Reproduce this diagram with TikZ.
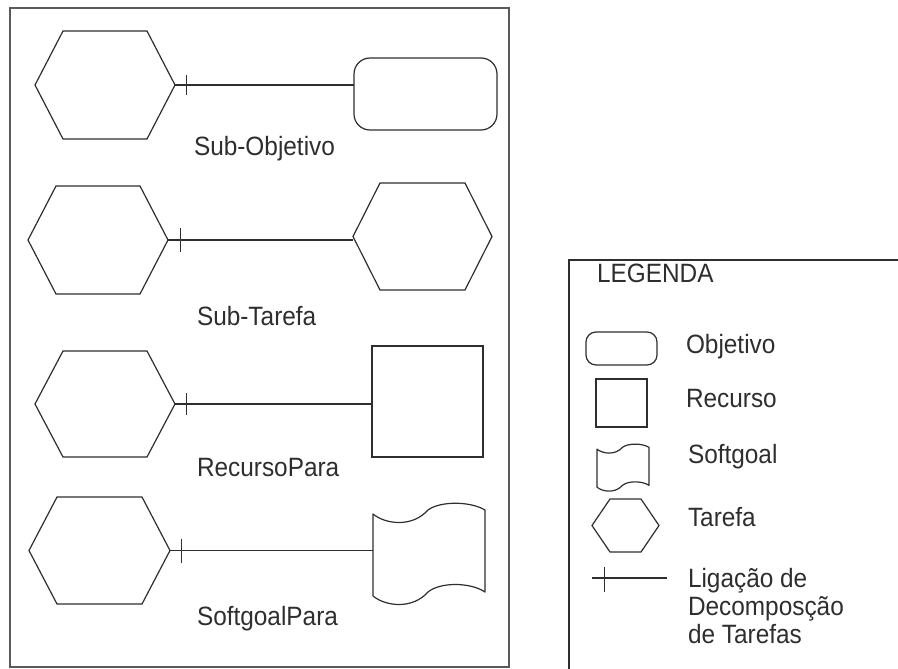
\documentclass[tikz,border=0pt]{standalone}
\usepackage{fontspec}
\setmainfont{Liberation Sans}
\newfontfamily\labfont[FakeStretch=0.92]{Liberation Sans}
\usetikzlibrary{calc}
\definecolor{ink}{HTML}{2E2E2E}
\definecolor{frm}{HTML}{5A5A5A}
\tikzset{
  shapeline/.style={draw=ink, line width=1.2pt},
  box/.style={inner sep=0pt, outer sep=0pt},
  goalbox/.style={box, shapeline, rounded corners=#1},
  resbox/.style={box, shapeline},
  lab/.style={inner sep=0pt, outer sep=0pt, anchor=base west, text=ink, font=\labfont\fontsize{26.5}{28.5}\selectfont},
  link/.style={draw=ink, line width=1.2pt},
  tick/.style={draw=ink, line width=1pt},
  frame/.style={draw=frm, line width=1.4pt},
}
\newcommand\hexnode[5]{% name, center, width, height, inset
  \node[box, minimum width=#3, minimum height=#4] (#1) at #2 {};
  \draw[shapeline] (#1.west) -- ([xshift=#5]#1.north west) -- ([xshift=-#5]#1.north east)
    -- (#1.east) -- ([xshift=-#5]#1.south east) -- ([xshift=#5]#1.south west) -- cycle;}
\newcommand\softnode[5]{% name, center, width, height, scale
  \node[box, minimum width=#3, minimum height=#4] (#1) at #2 {};
  \begin{scope}[shift={(#1.north west)}, x=#5pt, y=-#5pt]
    \draw[shapeline, line join=round] (0,10) .. controls (12,20) and (39,24) .. (55,6)
      .. controls (67,-3) and (97,-3) .. (112,6) -- (112,88)
      .. controls (97,78) and (67,78) .. (55,88)
      .. controls (39,106) and (12,102) .. (0,92) -- cycle;
  \end{scope}}
\begin{document}
\begin{tikzpicture}[x=1pt, y=-1pt]
\useasboundingbox (0,0) rectangle (898,669);
% frames
\draw[frame] (10,8) rectangle (509,667);
\draw[frame, draw=ink] (898,260) -- (569,260) -- (569,669);

% row 1
\hexnode{h1}{(105,85)}{140}{108}{28}
\node[goalbox=16, minimum width=143, minimum height=72] (o1) at (425.5,94) {};
\draw[link] (h1.east) -- (h1.east -| o1.west);
\path (h1.east) ++(11,0) coordinate (k1);
\draw[tick] (k1) ++(0,-10) -- ++(0,20);
\node[lab] (l1) at (194,156) {Sub-Objetivo};

% row 2
\hexnode{h2}{(98,240)}{140}{108}{28}
\hexnode{t2}{(422.5,236.5)}{139}{107}{27}
\draw[link] (h2.east) -- (h2.east -| t2.west);
\path (h2.east) ++(12,0) coordinate (k2);
\draw[tick] (k2) ++(0,-12) -- ++(0,24);
\node[lab] (l2) at (197,325) {Sub-Tarefa};

% row 3
\hexnode{h3}{(105,404)}{140}{106}{28}
\node[resbox, minimum width=111, minimum height=111] (r3) at (427.5,401.5) {};
\draw[link] (h3.east) -- (h3.east -| r3.west);
\path (h3.east) ++(11,0) coordinate (k3);
\draw[tick] (k3) ++(0,-11) -- ++(0,22);
\node[lab] (l3) at (197,476) {RecursoPara};

% row 4
\hexnode{h4}{(99.5,550.5)}{141}{107}{28}
\softnode{s4}{(429,553.5)}{112}{99}{1}
\draw[link] (h4.east) -- (h4.east -| s4.west);
\path (h4.east) ++(11,0) coordinate (k4);
\draw[tick] (k4) ++(0,-12) -- ++(0,24);
\node[lab] (l4) at (197,625) {SoftgoalPara};

% legend
\node[lab] (lg) at (597,282) {LEGENDA};
\node[goalbox=10, minimum width=71, minimum height=33] (lo) at (621.5,348.5) {};
\node[lab] (lot) at (686,353) {Objetivo};
\node[resbox, minimum width=51, minimum height=48] (lr) at (621.5,403) {};
\node[lab] (lrt) at (686,407) {Recurso};
\softnode{ls}{(623,467.5)}{52}{46}{0.464}
\node[lab] (lst) at (688,463) {Softgoal};
\hexnode{lh}{(625.5,525.5)}{67}{53}{18}
\node[lab] (lht) at (688,526) {Tarefa};
\coordinate (la) at (592,578);
\coordinate (lb) at (667,578);
\draw[link] (la) -- (lb);
\path (la) ++(12,0) coordinate (lk);
\draw[tick] (lk) ++(0,-11) -- ++(0,25);
\node[lab] (ll1) at (688,587) {Ligação de};
\node[lab] (ll2) at (688,615) {Decomposção};
\node[lab] (ll3) at (688,643) {de Tarefas};
\end{tikzpicture}
\end{document}
